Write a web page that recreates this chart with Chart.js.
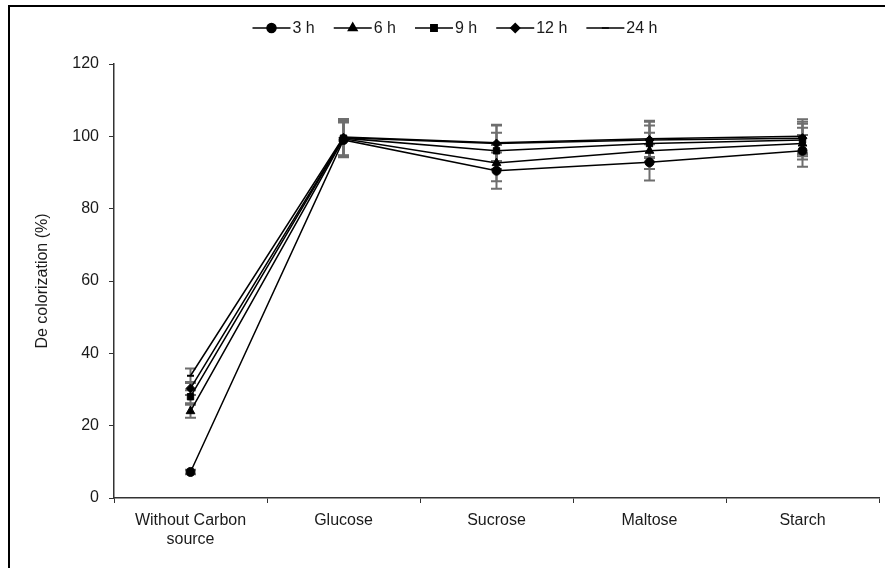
<!DOCTYPE html>
<html>
<head>
<meta charset="utf-8">
<script src="https://cdn.jsdelivr.net/npm/chart.js@4.4.0/dist/chart.umd.min.js"></script>
<style>
  html, body { margin: 0; padding: 0; background: #fff; }
  #wrap { width: 885px; height: 568px; }
</style>
</head>
<body>
<div id="wrap"><canvas id="myChart"></canvas></div>
<script>
const categories = [["Without Carbon", "source"], "Glucose", "Sucrose", "Maltose", "Starch"];
const seriesNames = ["3 h", "6 h", "9 h", "12 h", "24 h"];

const h3 = [7.2, 99.0, 90.5, 92.8, 96.0];
const h6 = [24.0, 99.3, 92.6, 96.0, 98.0];
const h9 = [28.0, 99.5, 96.0, 98.0, 99.0];
const h12 = [30.3, 99.6, 98.0, 99.0, 99.5];
const h24 = [33.8, 99.8, 98.2, 99.3, 100.0];

const e3 = [0.6, 4.8, 5.0, 5.0, 4.4];
const e6 = [1.8, 4.8, 5.0, 5.0, 4.4];
const e9 = [1.8, 5.0, 5.0, 5.0, 4.5];
const e12 = [1.8, 5.0, 5.0, 5.0, 4.5];
const e24 = [2.0, 5.0, 5.0, 5.0, 4.7];

const yTicks = [0, 20, 40, 60, 80, 100, 120];

const FONT = "'Liberation Sans', Arial, sans-serif";

const series = [
    { data: h3, err: e3, style: "circle", radius: 4.5 },
    { data: h6, err: e6, style: "triangle", radius: 5 },
    { data: h9, err: e9, style: "rect", radius: 4.5 },
    { data: h12, err: e12, style: "rectRot", radius: 4.5 },
    { data: h24, err: e24, style: "line", radius: 3.5 },
];

// figure frame
const framePlugin = {
    id: "frame",
    beforeDraw(chart) {
        const c = chart.ctx;
        c.save();
        c.fillStyle = "#fff";
        c.fillRect(0, 0, chart.width, chart.height);
        c.strokeStyle = "#000";
        c.lineWidth = 2;
        c.strokeRect(9, 6, chart.width + 20, chart.height + 20);
        c.restore();
    },
};

// gray error bars, drawn under the lines
const errorBarPlugin = {
    id: "errorBars",
    beforeDatasetsDraw(chart) {
        const c = chart.ctx;
        const x = chart.scales.x;
        const y = chart.scales.y;
        c.save();
        c.strokeStyle = "#6e6e6e";
        c.lineWidth = 2;
        chart.data.datasets.forEach((ds) => {
            ds.data.forEach((v, i) => {
                const px = x.getPixelForValue(i);
                const top = y.getPixelForValue(v + ds.err[i]);
                const bot = y.getPixelForValue(v - ds.err[i]);
                c.beginPath();
                c.moveTo(px, top);
                c.lineTo(px, bot);
                c.moveTo(px - 5.5, top);
                c.lineTo(px + 5.5, top);
                c.moveTo(px - 5.5, bot);
                c.lineTo(px + 5.5, bot);
                c.stroke();
            });
        });
        c.restore();
    },
};

// legend as line - marker - line, then text
const lineLegendPlugin = {
    id: "lineLegend",
    afterDraw(chart) {
        const c = chart.ctx;
        c.save();
        c.font = "16px " + FONT;
        c.textBaseline = "middle";
        const lineLen = 38, gap = 2, spacing = 19;
        const items = chart.data.datasets.map((ds) => ({ ds, w: c.measureText(ds.label).width }));
        const total = items.reduce((s, it) => s + lineLen + gap + it.w, 0) + spacing * (items.length - 1);
        let xx = 455 - total / 2;
        const yy = 28;
        items.forEach((it) => {
            c.strokeStyle = "#000";
            c.lineWidth = 1.5;
            c.beginPath();
            c.moveTo(xx, yy);
            c.lineTo(xx + lineLen, yy);
            c.stroke();
            c.fillStyle = "#000";
            Chart.helpers.drawPoint(c, {
                pointStyle: it.ds.pointStyle,
                radius: it.ds.pointRadius,
                borderWidth: it.ds.pointStyle === "line" ? 2 : 1,
                rotation: 0,
            }, xx + lineLen / 2, yy);
            c.fillStyle = "#1a1a1a";
            c.fillText(it.ds.label, xx + lineLen + gap, yy + 1);
            xx += lineLen + gap + it.w + spacing;
        });
        c.restore();
    },
};

new Chart(document.getElementById("myChart"), {
    type: "line",
    data: {
        labels: categories,
        datasets: series.map((s, k) => ({
            label: seriesNames[k],
            data: s.data,
            err: s.err,
            borderColor: "#000",
            borderWidth: 1.5,
            backgroundColor: "#000",
            pointStyle: s.style,
            pointRadius: s.radius,
            pointBorderWidth: s.style === "line" ? 2 : 1,
            pointBackgroundColor: "#000",
            pointBorderColor: "#000",
            tension: 0,
        })),
    },
    options: {
        responsive: true,
        maintainAspectRatio: false,
        animation: false,
        layout: { padding: { top: 64, right: 6, left: 0, bottom: 0 } },
        plugins: {
            legend: { display: false },
            tooltip: { enabled: false },
        },
        scales: {
            x: {
                offset: true,
                grid: {
                    offset: true,
                    drawOnChartArea: false,
                    drawTicks: true,
                    tickLength: 5,
                    color: "#333",
                },
                border: { color: "#333", width: 1.5 },
                ticks: {
                    color: "#1a1a1a",
                    font: { family: FONT, size: 16 },
                    padding: 8,
                    maxRotation: 0,
                    autoSkip: false,
                },
                afterFit(s) { s.height = 70; },
            },
            y: {
                min: 0,
                max: 120,
                afterBuildTicks(s) { s.ticks = yTicks.map((v) => ({ value: v })); },
                grid: {
                    drawOnChartArea: false,
                    tickLength: 5,
                    color: "#333",
                },
                border: { color: "#333", width: 1.5 },
                ticks: {
                    color: "#1a1a1a",
                    font: { family: FONT, size: 16 },
                    padding: 10,
                },
                title: {
                    display: true,
                    text: "De colorization (%)",
                    color: "#1a1a1a",
                    font: { family: FONT, size: 16 },
                    padding: { top: 33, bottom: 0 },
                },
                afterFit(s) { s.width = 114; },
            },
        },
    },
    plugins: [framePlugin, errorBarPlugin, lineLegendPlugin],
});
</script>
</body>
</html>
